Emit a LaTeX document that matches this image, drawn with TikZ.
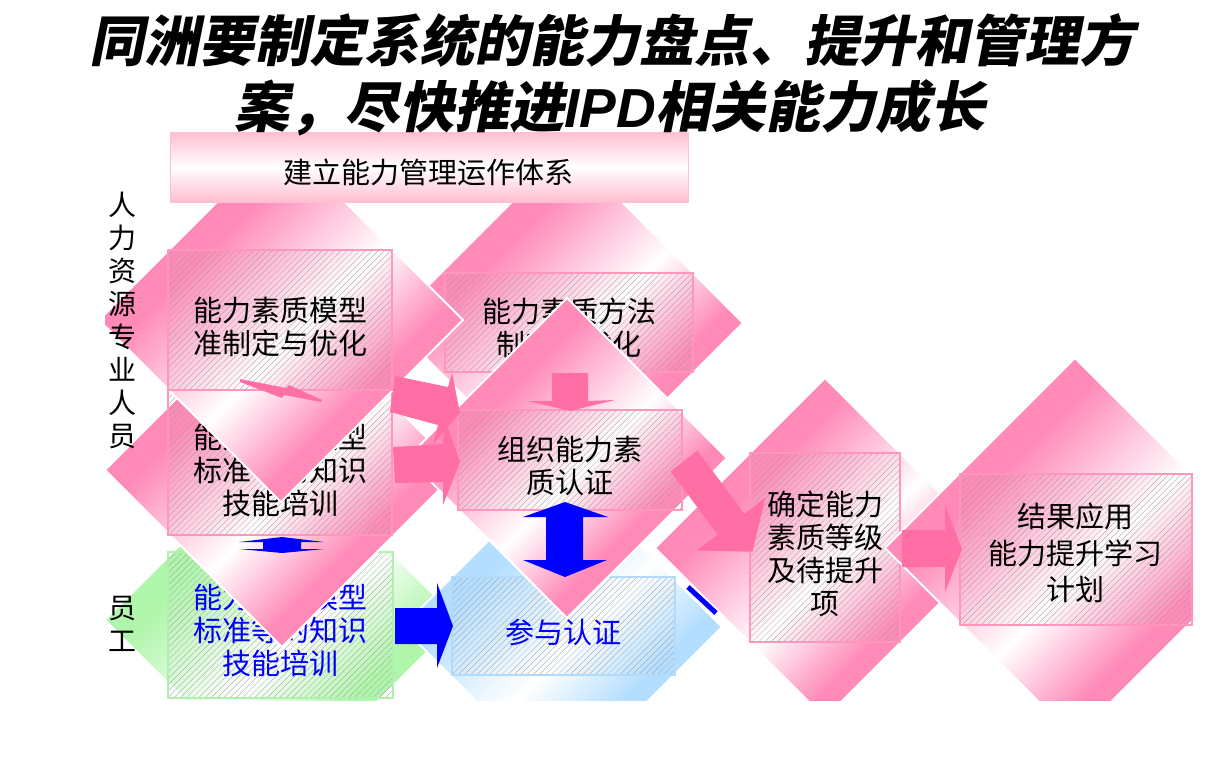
\documentclass[tikz,border=0pt]{standalone}
\usepackage{fontspec}
\usetikzlibrary{shapes.geometric,patterns.meta}
\newfontfamily\cjk{Noto Sans CJK SC}
\newfontfamily\titlecjk{Noto Sans CJK SC}[FakeSlant=0.2]
\newfontfamily\titlelat{Liberation Sans}
\definecolor{dpink}{RGB}{255,138,184}
\definecolor{hpink}{RGB}{255,110,165}
\definecolor{bpink}{RGB}{255,190,210}
\definecolor{lgreen}{RGB}{175,245,170}
\definecolor{lblue}{RGB}{180,222,255}
\definecolor{bordpink}{RGB}{255,150,190}
\definecolor{bordgreen}{RGB}{175,240,175}
\definecolor{bordblue}{RGB}{180,218,250}
\definecolor{ablue}{RGB}{0,0,255}
\pgfdeclarehorizontalshading{pinkdia}{100bp}{color(0bp)=(dpink); color(36bp)=(dpink); color(53bp)=(white); color(65bp)=(dpink); color(100bp)=(dpink)}
\pgfdeclarehorizontalshading{greendia}{100bp}{color(0bp)=(lgreen); color(36bp)=(lgreen); color(53bp)=(white); color(65bp)=(lgreen); color(100bp)=(lgreen)}
\pgfdeclarehorizontalshading{bluedia}{100bp}{color(0bp)=(lblue); color(36bp)=(lblue); color(53bp)=(white); color(65bp)=(lblue); color(100bp)=(lblue)}
\tikzset{
  dia/.style={shape=diamond, inner sep=0pt, outer sep=0pt, draw=white, line width=2pt, shading=#1, shading angle=-45},
  hbox/.style={shape=rectangle, draw=#1, line width=1.3pt, pattern={Lines[angle=45,distance=4.4pt,line width=0.3pt]}, pattern color=black!38, inner sep=0pt, outer sep=0pt},
  txt/.style={font=\cjk\fontsize{29}{33}\selectfont, align=center, inner sep=0pt, text=black},
  btxt/.style={txt, text=ablue},
  parrow/.style={fill=hpink},
  barrow/.style={fill=ablue}
}
\begin{document}
\begin{tikzpicture}[x=1pt,y=-1pt]
\useasboundingbox (0,0) rectangle (1231,772);
\fill[white] (0,0) rectangle (1231,772);
\begin{scope}
\clip (105,0) rectangle (1193,700);
% diamond 2 and box 2
\node[dia=pinkdia, minimum width=352pt, minimum height=352pt] (d2) at (567,323) {};
\node[hbox=bordpink, minimum width=248pt, minimum height=99pt] (b2) at (569,322.5) {};
\node[txt] (t2) at (569,328) {能力素质方法\\制定与优化};
% green diamond and box 5
\node[dia=greendia, minimum width=354pt, minimum height=354pt] (dg) at (282,620) {};
\node[hbox=bordgreen, minimum width=225pt, minimum height=146pt] (b5) at (280.5,625) {};
\node[btxt] (t5) at (280,630) {能力素质模型\\标准等的知识\\技能培训};
% blue diamond and box
\node[dia=bluedia, minimum width=320pt, minimum height=320pt] (db) at (562,627) {};
\node[hbox=bordblue, minimum width=223pt, minimum height=98pt] (bb) at (563.5,626) {};
\node[btxt] (tb) at (563,632) {参与认证};
% diamond 4 and box 4
\node[dia=pinkdia, minimum width=354pt, minimum height=354pt] (d4) at (282,470) {};
\node[hbox=bordpink, minimum width=224pt, minimum height=145pt] (b4) at (280,462.5) {};
\node[txt] (t4) at (280,470) {能力素质模型\\标准等的知识\\技能培训};
% diamond 1 and box 1
\node[dia=pinkdia, minimum width=364pt, minimum height=364pt] (d1) at (281,320) {};
\node[hbox=bordpink, minimum width=224pt, minimum height=140pt] (b1) at (280,320) {};
\node[txt] (t1) at (280,327) {能力素质模型\\准制定与优化};
% diamond 3 and box 3
\node[dia=pinkdia, minimum width=320pt, minimum height=320pt] (d3) at (567,458) {};
\node[hbox=bordpink, minimum width=224pt, minimum height=100pt] (b3) at (570,460) {};
\node[txt] (t3) at (570,466) {组织能力素\\质认证};
% diamond 6 and box 6
\node[dia=pinkdia, minimum width=340pt, minimum height=340pt] (d6) at (825,548) {};
\node[hbox=bordpink, minimum width=150pt, minimum height=189pt] (b6) at (825,547.5) {};
\node[txt] (t6) at (825,554) {确定能力\\素质等级\\及待提升\\项};
% diamond 7 and box 7
\node[dia=pinkdia, minimum width=380pt, minimum height=380pt] (d7) at (1075,548) {};
\node[hbox=bordpink, minimum width=232pt, minimum height=151pt] (b7) at (1076,549.5) {};
\node[txt, font=\cjk\fontsize{29}{36.5}\selectfont] (t7) at (1075,553) {结果应用\\能力提升学习\\计划};
\end{scope}
% banner
\node[shape=rectangle, draw=bpink, line width=0.8pt, top color=bpink, bottom color=bpink, middle color=white, minimum width=518pt, minimum height=70pt, inner sep=0pt] (ban) at (429,167) {};
\node[txt] (bant) at (428,172) {建立能力管理运作体系};
% pink block arrows
\fill[parrow] (395,376) -- (448,387) -- (452,373) -- (460,413) -- (433,444) -- (438,425) -- (390,412) -- cycle;
\fill[parrow] (393,447) -- (443,444) -- (445,420) -- (460,462) -- (443,505) -- (443,482) -- (395,483) -- cycle;
\fill[parrow] (552,373) -- (588,373) -- (588,401) -- (615,400) -- (570,411) -- (528,401) -- (552,401) -- cycle;
\fill[parrow] (670.6,471.4) -- (697.4,450.6) -- (744.4,513.6) -- (765.4,497.5) -- (752.4,551.7) -- (696.6,550.5) -- (717.6,534.4) -- cycle;
\fill[parrow] (902,530) -- (945,530) -- (945,505) -- (962,549) -- (945,592) -- (945,567) -- (902,567) -- cycle;
\fill[parrow] (240,379) -- (286,388) -- (289,385) -- (322,400) -- (321,402) -- (284,395) -- (282,398) -- (240,382) -- cycle;
% blue block arrows
\fill[barrow] (395,608) -- (437,608) -- (437,583) -- (453,626) -- (437,668) -- (437,644) -- (395,644) -- cycle;
\fill[barrow] (565,502) -- (608,517) -- (583,517) -- (583,560) -- (607,560) -- (565,577) -- (523,560) -- (546,560) -- (546,517) -- (523,517) -- cycle;
\fill[barrow] (282,537) -- (324,542) -- (301,542) -- (301,549) -- (324,549) -- (282,553) -- (239,549) -- (263,549) -- (263,542) -- (239,542) -- cycle;
\coordinate (bl1) at (688,587);
\coordinate (bl2) at (716,613);
\draw[ablue, line width=5pt] (bl1) -- (bl2);
% side labels
\node[txt, font=\cjk\fontsize{28}{33}\selectfont] (lab1) at (122,320.5) {人\\力\\资\\源\\专\\业\\人\\员};
\node[txt, font=\cjk\fontsize{28}{33}\selectfont] (lab2) at (122,623.5) {员\\工};
% title
\node[inner sep=0pt, font=\titlecjk\bfseries\fontsize{55}{60}\selectfont] (ti1) at (612,40) {同洲要制定系统的能力盘点、提升和管理方};
\node[inner sep=0pt, font=\titlecjk\bfseries\fontsize{55}{60}\selectfont] (ti2) at (610,108) {案，尽快推进{\titlelat\bfseries\itshape IPD}相关能力成长};
\end{tikzpicture}
\end{document}
